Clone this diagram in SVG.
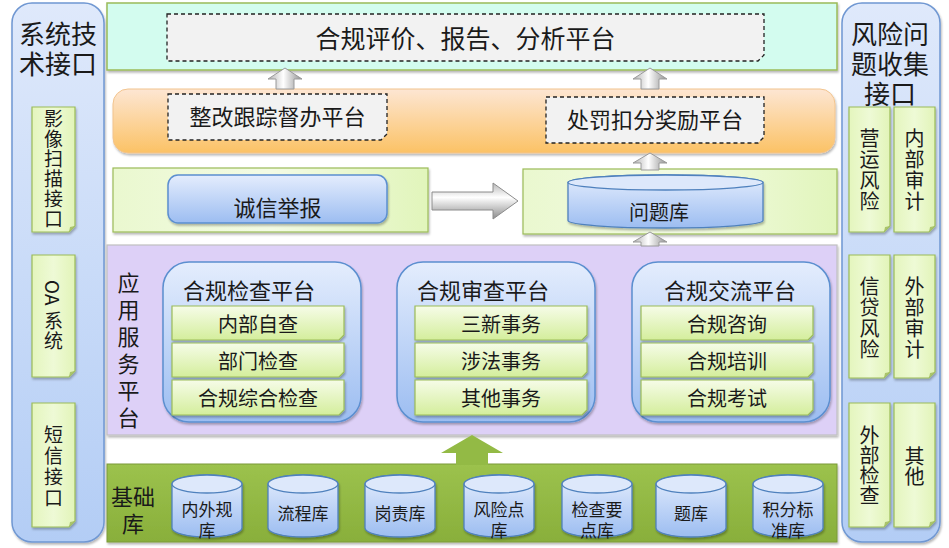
<svg xmlns="http://www.w3.org/2000/svg" width="949" height="548" viewBox="0 0 949 548">
<defs>
<linearGradient id="gSide" x1="0" y1="0" x2="0" y2="1"><stop offset="0" stop-color="#dfe9fb"/><stop offset="1" stop-color="#b3cdf5"/></linearGradient>
<linearGradient id="gNote" x1="0" y1="0" x2="1" y2="0"><stop offset="0" stop-color="#e4f5bd"/><stop offset="0.5" stop-color="#eefad6"/><stop offset="1" stop-color="#e2f4b8"/></linearGradient>
<linearGradient id="gItem" x1="0" y1="0" x2="0" y2="1"><stop offset="0" stop-color="#f6fce8"/><stop offset="1" stop-color="#d4ee9c"/></linearGradient>
<linearGradient id="gBlue" x1="0" y1="0" x2="0" y2="1"><stop offset="0" stop-color="#e4edfd"/><stop offset="1" stop-color="#9cbdf1"/></linearGradient>
<linearGradient id="gOrange" x1="0" y1="0" x2="0" y2="1"><stop offset="0" stop-color="#fde6d3"/><stop offset="1" stop-color="#fbc265"/></linearGradient>
<linearGradient id="gRow" x1="0" y1="0" x2="1" y2="0"><stop offset="0" stop-color="#eaf8cf"/><stop offset="0.5" stop-color="#f3fbe4"/><stop offset="1" stop-color="#e1f5bb"/></linearGradient>
<linearGradient id="gGrayV" x1="0" y1="0" x2="1" y2="0"><stop offset="0" stop-color="#b0b0b0"/><stop offset="0.45" stop-color="#ffffff"/><stop offset="1" stop-color="#909090"/></linearGradient>
<linearGradient id="gGrayH" x1="0" y1="0" x2="0" y2="1"><stop offset="0" stop-color="#b8b8b8"/><stop offset="0.4" stop-color="#ffffff"/><stop offset="1" stop-color="#8c8c8c"/></linearGradient>
<linearGradient id="gBase" x1="0" y1="0" x2="0" y2="1"><stop offset="0" stop-color="#9cc24d"/><stop offset="1" stop-color="#89af3b"/></linearGradient>
<filter id="sh" x="-10%" y="-10%" width="130%" height="130%"><feDropShadow dx="1" dy="2" stdDeviation="1.2" flood-color="#000" flood-opacity="0.28"/></filter>
</defs>
<style>
text{font-family:"Noto Sans CJK SC","Microsoft YaHei","Noto Sans",sans-serif;fill:#1a1a1a;text-anchor:middle;dominant-baseline:central}
.side{fill:url(#gSide);stroke:#6f97d2;stroke-width:1.5}
.note{fill:url(#gNote);stroke:#9bbb59;stroke-width:1.2}
.ear{fill:#aac46c}
.item{fill:url(#gItem);stroke:#9bbb59;stroke-width:1.2}
.plat{fill:url(#gBlue);stroke:#5b8fd0;stroke-width:1.5}
.dash{fill:#f2f2f2;stroke:#222;stroke-width:1.3;stroke-dasharray:4 3}
.cyl{fill:url(#gBlue);stroke:#4f81bd;stroke-width:1.3}
.cyltop{fill:#dde8fb;stroke:#4f81bd;stroke-width:1.3}
.garrow{fill:url(#gGrayV);stroke:#9a9a9a;stroke-width:1}
.t26{font-size:26px}.t25{font-size:25px}.t22{font-size:22px}.t20{font-size:20px}.t19{font-size:19px}.t17{font-size:17px}
</style>
<rect width="949" height="548" fill="#ffffff"/>

<g id="left-panel">
<rect class="side" x="12" y="3" width="92" height="539" rx="20" filter="url(#sh)"/>
<text class="t26" x="58" y="32">系统技</text>
<text class="t26" x="58" y="62">术接口</text>
</g>
<g id="node-yingxiang">
<path class="note" d="M32 107H75V226L69 232H32Z" filter="url(#sh)"/>
<path class="ear" d="M69 232L70 227L75 226Z"/>
<text class="t19" x="53.5" y="117">影</text><text class="t19" x="53.5" y="137">像</text><text class="t19" x="53.5" y="157">扫</text><text class="t19" x="53.5" y="177">描</text><text class="t19" x="53.5" y="197">接</text><text class="t19" x="53.5" y="217">口</text>
</g>
<g id="node-oa">
<path class="note" d="M32 255H75V371L69 377H32Z" filter="url(#sh)"/>
<path class="ear" d="M69 377L70 372L75 371Z"/>
<text class="t19" transform="translate(53.5,280) rotate(90)" style="text-anchor:start">OA</text>
<text class="t19" x="53.5" y="319">系</text><text class="t19" x="53.5" y="339">统</text>
</g>
<g id="node-duanxin">
<path class="note" d="M32 403H75V521L69 527H32Z" filter="url(#sh)"/>
<path class="ear" d="M69 527L70 522L75 521Z"/>
<text class="t19" x="53.5" y="433">短</text><text class="t19" x="53.5" y="454">信</text><text class="t19" x="53.5" y="475">接</text><text class="t19" x="53.5" y="496">口</text>
</g>

<g id="right-panel">
<rect class="side" x="842" y="3" width="98" height="539" rx="20" filter="url(#sh)"/>
<text class="t26" x="890" y="32">风险问</text>
<text class="t26" x="890" y="62">题收集</text>
<text class="t26" x="890" y="92">接口</text>
</g>
<g id="node-yingyun">
<path class="note" d="M849 107H890V226L884 232H849Z" filter="url(#sh)"/>
<path class="ear" d="M884 232L885 227L890 226Z"/>
<text class="t20" x="869.5" y="137">营</text><text class="t20" x="869.5" y="158">运</text><text class="t20" x="869.5" y="179">风</text><text class="t20" x="869.5" y="200">险</text>
</g>
<g id="node-neibushenji">
<path class="note" d="M894 107H935V226L929 232H894Z" filter="url(#sh)"/>
<path class="ear" d="M929 232L930 227L935 226Z"/>
<text class="t20" x="914.5" y="137">内</text><text class="t20" x="914.5" y="158">部</text><text class="t20" x="914.5" y="179">审</text><text class="t20" x="914.5" y="200">计</text>
</g>
<g id="node-xindai">
<path class="note" d="M849 255H890V372L884 378H849Z" filter="url(#sh)"/>
<path class="ear" d="M884 378L885 373L890 372Z"/>
<text class="t20" x="869.5" y="285">信</text><text class="t20" x="869.5" y="306">贷</text><text class="t20" x="869.5" y="327">风</text><text class="t20" x="869.5" y="348">险</text>
</g>
<g id="node-waibushenji">
<path class="note" d="M894 255H935V372L929 378H894Z" filter="url(#sh)"/>
<path class="ear" d="M929 378L930 373L935 372Z"/>
<text class="t20" x="914.5" y="285">外</text><text class="t20" x="914.5" y="306">部</text><text class="t20" x="914.5" y="327">审</text><text class="t20" x="914.5" y="348">计</text>
</g>
<g id="node-waibujiancha">
<path class="note" d="M849 403H890V521L884 527H849Z" filter="url(#sh)"/>
<path class="ear" d="M884 527L885 522L890 521Z"/>
<text class="t20" x="869.5" y="434">外</text><text class="t20" x="869.5" y="454">部</text><text class="t20" x="869.5" y="474">检</text><text class="t20" x="869.5" y="494">查</text>
</g>
<g id="node-qita">
<path class="note" d="M894 403H935V521L929 527H894Z" filter="url(#sh)"/>
<path class="ear" d="M929 527L930 522L935 521Z"/>
<text class="t20" x="914.5" y="455">其</text><text class="t20" x="914.5" y="475">他</text>
</g>

<g id="node-pingjia">
<rect x="107" y="3" width="730" height="67" fill="#d3fcef" stroke="#9bbb59" stroke-width="1.5" filter="url(#sh)"/>
<path class="dash" d="M167 14H764V55L758 61H167Z"/>
<text class="t25" x="465.5" y="37">合规评价、报告、分析平台</text>
</g>

<g id="node-orange">
<rect x="113" y="89" width="722" height="64" rx="15" fill="url(#gOrange)" stroke="#f2c48e" stroke-width="1" filter="url(#sh)"/>
</g>
<g id="node-zhenggai">
<path class="dash" d="M168 94H387V134L381 140H168Z"/>
<text class="t22" x="277.5" y="115">整改跟踪督办平台</text>
</g>
<g id="node-chufa">
<path class="dash" d="M546 97H764V137L758 143H546Z"/>
<text class="t22" x="655" y="118">处罚扣分奖励平台</text>
</g>

<g id="node-chengxin">
<rect x="113" y="168" width="315" height="64" fill="url(#gRow)" stroke="#9bbb59" stroke-width="1.2" filter="url(#sh)"/>
<rect class="plat" x="168" y="175" width="219" height="48" rx="10" filter="url(#sh)"/>
<text class="t22" x="277.5" y="206">诚信举报</text>
</g>

<g id="node-wentiku">
<rect x="523" y="169" width="314" height="65" fill="url(#gRow)" stroke="#9bbb59" stroke-width="1.2" filter="url(#sh)"/>
<path class="cyl" d="M568 182.5V220.5A97.5 7.5 0 0 0 763 220.5V182.5A97.5 7.5 0 0 0 568 182.5Z" filter="url(#sh)"/>
<ellipse class="cyltop" cx="665.5" cy="182.5" rx="97.5" ry="7.5"/>
<text class="t20" x="659" y="211">问题库</text>
</g>

<g id="node-yingyong">
<rect x="107" y="245" width="730" height="190" fill="#ddd0f7" stroke="#c0c0c0" stroke-width="1.2" filter="url(#sh)"/>
<text class="t22" x="128.5" y="281">应</text><text class="t22" x="128.5" y="308">用</text><text class="t22" x="128.5" y="335">服</text><text class="t22" x="128.5" y="362">务</text><text class="t22" x="128.5" y="389">平</text><text class="t22" x="128.5" y="416">台</text>
</g>

<g id="node-jiancha">
<rect class="plat" x="163" y="262" width="198" height="160" rx="26" filter="url(#sh)"/>
<text class="t22" x="249" y="289">合规检查平台</text>
<path class="item" d="M172 306H344V335L339 340H172Z" filter="url(#sh)"/>
<text class="t20" x="258" y="323">内部自查</text>
<path class="item" d="M172 343H344V372L339 377H172Z" filter="url(#sh)"/>
<text class="t20" x="258" y="360">部门检查</text>
<path class="item" d="M172 380H344V410L339 415H172Z" filter="url(#sh)"/>
<text class="t20" x="258" y="397">合规综合检查</text>
</g>

<g id="node-shencha">
<rect class="plat" x="397" y="262" width="198" height="160" rx="26" filter="url(#sh)"/>
<text class="t22" x="483" y="289">合规审查平台</text>
<path class="item" d="M415 306H587V335L582 340H415Z" filter="url(#sh)"/>
<text class="t20" x="501" y="323">三新事务</text>
<path class="item" d="M415 343H587V372L582 377H415Z" filter="url(#sh)"/>
<text class="t20" x="501" y="360">涉法事务</text>
<path class="item" d="M415 380H587V410L582 415H415Z" filter="url(#sh)"/>
<text class="t20" x="501" y="397">其他事务</text>
</g>

<g id="node-jiaoliu">
<rect class="plat" x="632" y="262" width="198" height="160" rx="26" filter="url(#sh)"/>
<text class="t22" x="730" y="289">合规交流平台</text>
<path class="item" d="M641 306H813V335L808 340H641Z" filter="url(#sh)"/>
<text class="t20" x="727" y="323">合规咨询</text>
<path class="item" d="M641 343H813V372L808 377H641Z" filter="url(#sh)"/>
<text class="t20" x="727" y="360">合规培训</text>
<path class="item" d="M641 380H813V410L808 415H641Z" filter="url(#sh)"/>
<text class="t20" x="727" y="397">合规考试</text>
</g>

<g id="node-jichuku">
<rect x="107" y="464" width="730" height="78" fill="url(#gBase)" stroke="#7a9a3a" stroke-width="1" filter="url(#sh)"/>
<text class="t22" x="133" y="495">基础</text>
<text class="t22" x="133" y="522">库</text>
</g>
<g id="node-neiwaigui">
<path class="cyl" d="M172 484V528A35 9 0 0 0 242 528V484A35 9 0 0 0 172 484Z" filter="url(#sh)"/>
<ellipse class="cyltop" cx="207" cy="484" rx="35" ry="9"/>
<text class="t17" x="207" y="508">内外规</text><text class="t17" x="207" y="529">库</text>
</g>
<g id="node-liucheng">
<path class="cyl" d="M268 484V528A35 9 0 0 0 338 528V484A35 9 0 0 0 268 484Z" filter="url(#sh)"/>
<ellipse class="cyltop" cx="303" cy="484" rx="35" ry="9"/>
<text class="t17" x="303" y="512">流程库</text>
</g>
<g id="node-gangze">
<path class="cyl" d="M365 484V528A35 9 0 0 0 435 528V484A35 9 0 0 0 365 484Z" filter="url(#sh)"/>
<ellipse class="cyltop" cx="400" cy="484" rx="35" ry="9"/>
<text class="t17" x="400" y="512">岗责库</text>
</g>
<g id="node-fengxiandian">
<path class="cyl" d="M464 484V528A35 9 0 0 0 534 528V484A35 9 0 0 0 464 484Z" filter="url(#sh)"/>
<ellipse class="cyltop" cx="499" cy="484" rx="35" ry="9"/>
<text class="t17" x="499" y="508">风险点</text><text class="t17" x="499" y="529">库</text>
</g>
<g id="node-jianchayaodian">
<path class="cyl" d="M562 484V528A35 9 0 0 0 632 528V484A35 9 0 0 0 562 484Z" filter="url(#sh)"/>
<ellipse class="cyltop" cx="597" cy="484" rx="35" ry="9"/>
<text class="t17" x="597" y="508">检查要</text><text class="t17" x="597" y="529">点库</text>
</g>
<g id="node-tiku">
<path class="cyl" d="M656 484V528A35 9 0 0 0 726 528V484A35 9 0 0 0 656 484Z" filter="url(#sh)"/>
<ellipse class="cyltop" cx="691" cy="484" rx="35" ry="9"/>
<text class="t17" x="691" y="512">题库</text>
</g>
<g id="node-jifen">
<path class="cyl" d="M753 484V528A35 9 0 0 0 823 528V484A35 9 0 0 0 753 484Z" filter="url(#sh)"/>
<ellipse class="cyltop" cx="788" cy="484" rx="35" ry="9"/>
<text class="t17" x="788" y="508">积分标</text><text class="t17" x="788" y="529">准库</text>
</g>

<g id="connectors">
<path class="garrow" d="M285 68L302 79H294V89H276V79H268Z"/>
<path class="garrow" d="M650 68L667 79H659V89H641V79H633Z"/>
<path class="garrow" d="M650 153L667 163H659V170H641V163H633Z"/>
<path class="garrow" d="M650 232L667 242H659V246H641V242H633Z"/>
<path d="M432 192H493V183L518 201L493 219V210H432Z" fill="url(#gGrayH)" stroke="#8c8c8c" stroke-width="1"/>
<path d="M472 435L503 453H488V465H456V453H441Z" fill="#93ba45"/>
</g>
</svg>
